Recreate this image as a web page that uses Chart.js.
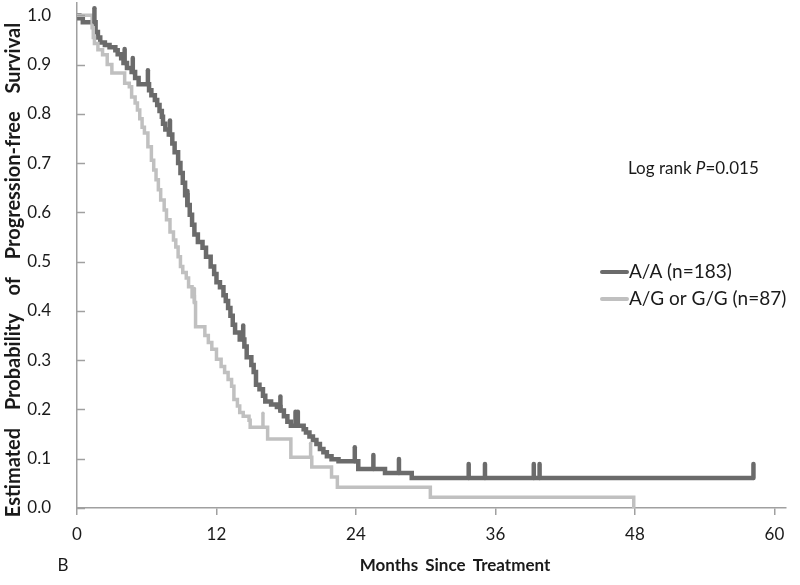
<!DOCTYPE html>
<html>
<head>
<meta charset="utf-8">
<script src="https://cdn.jsdelivr.net/npm/chart.js@4/dist/chart.umd.min.js"></script>
<style>
  body { margin: 0; background: #fff; }
  canvas { display: block; }
</style>
</head>
<body>
<canvas id="kmChart" width="800" height="585"></canvas>
<script>
// series labels
const seriesNames = ['A/A (n=183)', 'A/G or G/G (n=87)'];

// A/A : event times (months) and survival after each event
const aaTimes = [0, 0.2, 0.5, 1.6, 1.8, 2.0, 2.4, 2.8, 3.3, 3.5, 3.8, 4.0, 4.3, 4.7, 5.0, 5.3,
  6.2, 6.4, 6.7, 6.9, 7.1, 7.3, 7.4, 7.6, 7.9, 8.2, 8.4, 8.7, 8.9, 9.1, 9.3, 9.5, 9.7, 9.9,
  10.1, 10.4, 10.8, 11.1, 11.5, 11.8, 12.0, 12.3, 12.6, 12.8, 13.0, 13.2, 13.4, 13.6, 14.0,
  14.4, 14.6, 15.0, 15.2, 15.4, 15.7, 16.0, 16.2, 16.7, 17.2, 17.5, 17.8, 18.1, 18.4, 19.5,
  19.7, 20.0, 20.3, 20.6, 20.9, 21.2, 21.5, 21.9, 22.5, 24.2, 26.5, 28.8, 58.2];
const aaSurv = [1.0, 0.994, 0.986, 0.966, 0.955, 0.945, 0.940, 0.935, 0.929, 0.921, 0.913, 0.903, 0.893, 0.885, 0.873, 0.860,
  0.848, 0.838, 0.828, 0.818, 0.806, 0.794, 0.780, 0.768, 0.758, 0.740, 0.722, 0.700, 0.680, 0.660, 0.635, 0.615, 0.595, 0.575,
  0.555, 0.540, 0.528, 0.510, 0.490, 0.475, 0.458, 0.448, 0.432, 0.420, 0.406, 0.390, 0.372, 0.356, 0.342,
  0.328, 0.306, 0.290, 0.276, 0.250, 0.241, 0.228, 0.216, 0.210, 0.205, 0.198, 0.186, 0.175, 0.167, 0.160,
  0.153, 0.145, 0.138, 0.130, 0.120, 0.113, 0.105, 0.099, 0.095, 0.079, 0.071, 0.061, 0.061];
const aaCensor = [1.5, 4.1, 4.8, 6.1, 8.0, 9.5, 14.3, 17.5, 18.8, 19.0, 23.9, 25.5, 27.7, 33.7, 35.1, 39.3, 39.8, 58.2];

// A/G or G/G
const agTimes = [0, 1.3, 1.4, 1.5, 1.8, 2.2, 2.6, 3.0, 4.1, 4.5, 4.7, 5.0, 5.2, 5.4, 5.6, 5.8,
  6.1, 6.4, 6.6, 6.8, 7.0, 7.2, 7.5, 7.7, 8.0, 8.3, 8.5, 8.7, 8.9, 9.1, 9.4, 9.6, 9.9, 10.1,
  10.2, 11.0, 11.3, 11.6, 12.0, 12.4, 12.7, 13.0, 13.3, 13.5, 13.8, 14.0, 14.3, 14.8, 14.9,
  16.4, 18.4, 20.2, 21.9, 22.4, 30.4, 47.9];
const agSurv = [1.0, 0.975, 0.955, 0.943, 0.930, 0.920, 0.900, 0.883, 0.862, 0.855, 0.834, 0.822, 0.808, 0.790, 0.773, 0.761,
  0.733, 0.706, 0.686, 0.666, 0.646, 0.625, 0.605, 0.585, 0.560, 0.544, 0.530, 0.510, 0.490, 0.478, 0.467, 0.449, 0.429, 0.417,
  0.368, 0.350, 0.336, 0.322, 0.302, 0.287, 0.275, 0.261, 0.247, 0.220, 0.207, 0.194, 0.186, 0.178, 0.164,
  0.140, 0.103, 0.083, 0.063, 0.042, 0.022, 0.0];
const agCensor = [10.1, 16.0, 20.1];

// axis ticks
const xTicks = [0, 12, 24, 36, 48, 60];
const yTicks = [0, 0.1, 0.2, 0.3, 0.4, 0.5, 0.6, 0.7, 0.8, 0.9, 1.0];

const darkGray = '#6b6b6b';
const lightGray = '#c0c0c0';
const axisGray = '#a0a0a0';
const fontFam = 'Lato, "Liberation Sans", sans-serif';

function toPoints(times, surv) {
  return times.map((t, i) => ({ x: t, y: surv[i] }));
}

function survAt(times, surv, t) {
  let s = surv[0];
  for (let i = 0; i < times.length; i++) {
    if (times[i] <= t) s = surv[i];
  }
  return s;
}

// censor marks, inner y ticks and the free text
const extras = {
  id: 'extras',
  afterDatasetsDraw(chart) {
    const ctx = chart.ctx;
    const xs = chart.scales.x, ys = chart.scales.y;
    const sets = [
      [agTimes, agSurv, agCensor, lightGray, 3.5],
      [aaTimes, aaSurv, aaCensor, darkGray, 4.5]
    ];
    ctx.save();
    ctx.lineCap = 'round';
    sets.forEach(([tt, ss, cc, col, w]) => {
      ctx.strokeStyle = col;
      ctx.lineWidth = w;
      cc.forEach(t => {
        const px = xs.getPixelForValue(t);
        const py = ys.getPixelForValue(survAt(tt, ss, t));
        ctx.beginPath();
        ctx.moveTo(px, py);
        ctx.lineTo(px, py - 14);
        ctx.stroke();
      });
    });
    ctx.restore();
  },
  afterDraw(chart) {
    const ctx = chart.ctx;
    const ys = chart.scales.y;
    const left = chart.chartArea.left;
    ctx.save();
    // y tick marks point inwards
    ctx.strokeStyle = axisGray;
    ctx.lineWidth = 1.5;
    yTicks.forEach(v => {
      const py = Math.round(ys.getPixelForValue(v)) + 0.5;
      ctx.beginPath();
      ctx.moveTo(left, py);
      ctx.lineTo(left + 8, py);
      ctx.stroke();
    });

    ctx.fillStyle = '#1a1a1a';
    ctx.textBaseline = 'middle';

    // y axis title
    ctx.save();
    ctx.translate(14, 270);
    ctx.rotate(-Math.PI / 2);
    ctx.font = 'bold 20px ' + fontFam;
    ctx.wordSpacing = '13px';
    ctx.textAlign = 'center';
    ctx.fillText('Estimated Probability of Progression-free Survival', 0, 0);
    ctx.restore();

    // x axis title and panel letter
    ctx.font = 'bold 17px ' + fontFam;
    ctx.wordSpacing = '3px';
    ctx.textAlign = 'center';
    ctx.fillText('Months Since Treatment', 455, 566);
    ctx.wordSpacing = '0px';
    ctx.font = '17px ' + fontFam;
    ctx.fillText('B', 63, 566);

    // log rank text
    ctx.textAlign = 'left';
    let x = 628;
    const parts = [['Log rank ', ''], ['P', 'italic '], ['=0.015', '']];
    parts.forEach(([txt, style]) => {
      ctx.font = style + '17px ' + fontFam;
      ctx.fillText(txt, x, 169);
      x += ctx.measureText(txt).width;
    });

    // legend
    const legendCols = [darkGray, lightGray];
    const legendY = [272, 299];
    seriesNames.forEach((name, i) => {
      ctx.strokeStyle = legendCols[i];
      ctx.lineWidth = 4;
      ctx.lineCap = 'round';
      ctx.beginPath();
      ctx.moveTo(602, legendY[i]);
      ctx.lineTo(627, legendY[i]);
      ctx.stroke();
      ctx.font = '19px ' + fontFam;
      ctx.fillText(name, 629, legendY[i]);
    });
    ctx.restore();
  }
};

new Chart(document.getElementById('kmChart'), {
  type: 'line',
  data: {
    datasets: [
      {
        label: seriesNames[1],
        data: toPoints(agTimes, agSurv),
        stepped: true,
        borderColor: lightGray,
        borderWidth: 3.5,
        pointRadius: 0,
        fill: false
      },
      {
        label: seriesNames[0],
        data: toPoints(aaTimes, aaSurv),
        stepped: true,
        borderColor: darkGray,
        borderWidth: 4.5,
        pointRadius: 0,
        fill: false
      }
    ]
  },
  options: {
    responsive: false,
    animation: false,
    devicePixelRatio: 1,
    layout: { autoPadding: false, padding: { top: 3, right: 14, left: 0, bottom: 0 } },
    plugins: {
      legend: { display: false },
      tooltip: { enabled: false }
    },
    scales: {
      x: {
        type: 'linear',
        bounds: 'data',
        min: 0,
        max: 61,
        afterBuildTicks: s => { s.ticks = xTicks.map(v => ({ value: v })); },
        afterFit: s => { s.height = 77; s.paddingLeft = 0; s.paddingRight = 0; },
        grid: { display: true, drawOnChartArea: false, drawTicks: true, tickLength: 7, color: axisGray, lineWidth: 1.5 },
        border: { display: true, color: axisGray, width: 1.5 },
        ticks: { color: '#1a1a1a', font: { family: fontFam, size: 17 }, padding: 9, maxRotation: 0, autoSkip: false }
      },
      y: {
        type: 'linear',
        bounds: 'data',
        min: 0,
        max: 1.025,
        afterBuildTicks: s => { s.ticks = yTicks.map(v => ({ value: v })); },
        afterFit: s => { s.width = 77; s.paddingTop = 0; s.paddingBottom = 0; },
        grid: { display: false },
        border: { display: true, color: axisGray, width: 1.5 },
        ticks: {
          color: '#1a1a1a',
          font: { family: fontFam, size: 17 },
          padding: 18,
          callback: v => v.toFixed(1)
        }
      }
    }
  },
  plugins: [extras]
});
</script>
</body>
</html>
